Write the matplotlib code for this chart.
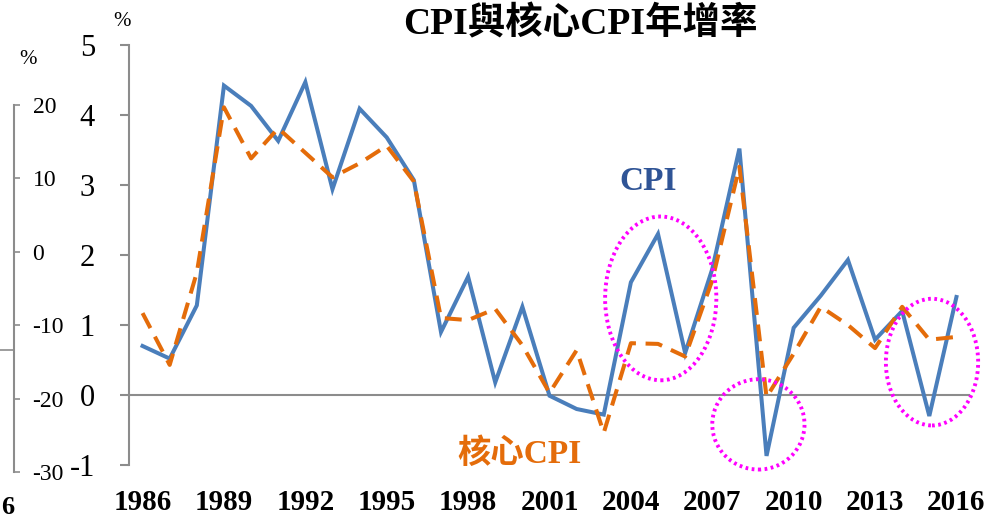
#!/usr/bin/env python3
"""CPI vs core CPI annual growth (Taiwan), 1986-2016."""

import matplotlib

matplotlib.use("Agg")
import matplotlib.pyplot as plt
from matplotlib.lines import Line2D
from matplotlib.patches import Ellipse

YEARS = list(range(1986, 2017))
CPI = [0.70, 0.52, 1.28, 4.42, 4.13, 3.63, 4.47, 2.94, 4.09, 3.68,
       3.07, 0.90, 1.69, 0.18, 1.26, -0.01, -0.20, -0.28, 1.61, 2.30,
       0.60, 1.80, 3.52, -0.87, 0.96, 1.42, 1.93, 0.79, 1.20, -0.30, 1.40]
CORE_CPI = [1.17, 0.43, 1.75, 4.11, 3.38, 3.81, 3.46, 3.11, 3.31, 3.56,
            3.05, 1.10, 1.07, 1.23, 0.71, 0.03, 0.64, -0.54, 0.74, 0.73,
            0.55, 1.64, 3.26, -0.03, 0.59, 1.26, 1.00, 0.67, 1.26, 0.79, 0.83]
YEAR_TICKS = list(range(1986, 2017, 3))
MAIN_YTICKS = [-1, 0, 1, 2, 3, 4, 5]
LEFT_YTICKS = [-30, -20, -10, 0, 10, 20]
# highlighted episodes: (center year, center value, width in years, height)
HIGHLIGHTS = [(2005.1, 1.38, 4.1, 2.34), (2008.7, -0.42, 3.4, 1.29),
              (2015.1, 0.47, 3.4, 1.81)]

W, H = 992, 519
SERIF = ["Liberation Serif", "Noto Sans CJK TC"]
GRAY = "#8c8c8c"


def fx(px):
    return px / W


def fy(py):
    return 1 - py / H


def main():
    plt.rcParams["font.family"] = SERIF
    plt.rcParams["axes.unicode_minus"] = False
    fig = plt.figure(figsize=(W / 100, H / 100), dpi=100)

    # leftover axis of a neighbouring chart, clipped at the left edge
    ax_l = fig.add_axes([fx(14), fy(472), fx(6), fy(105) - fy(472)])
    ax_l.set_ylim(-30, 20)
    ax_l.set_yticks(LEFT_YTICKS)
    ax_l.set_xticks([])
    for side in ["top", "right", "bottom"]:
        ax_l.spines[side].set_visible(False)
    ax_l.spines["left"].set_color(GRAY)
    ax_l.spines["left"].set_linewidth(1.5)
    ax_l.patch.set_alpha(0)
    ax_l.tick_params(axis="y", direction="in", length=4.5, width=1.2, color=GRAY,
                     left=True, right=False, labelleft=False, labelright=True,
                     labelsize=17, pad=9)
    fig.add_artist(Line2D([0, fx(14)], [fy(350), fy(350)], color=GRAY, lw=1.2))
    fig.text(fx(28), fy(60), "%", fontsize=15, ha="center", va="center")
    fig.text(fx(8), fy(507), "6", fontsize=19, fontweight="bold",
             ha="center", va="center")

    ax = fig.add_axes([fx(129), fy(465), fx(970) - fx(129), fy(45) - fy(465)])
    ax.plot(YEARS, CPI, color="#4A7EBB", lw=2.9, solid_joinstyle="miter", zorder=2)
    ax.plot(YEARS, CORE_CPI, color="#E46C0A", lw=2.9, dashes=(4.2, 2.4), zorder=3)
    ax.axhline(0, color=GRAY, lw=1.5, zorder=1)

    for cx, cy, w, h in HIGHLIGHTS:
        ax.add_patch(Ellipse((cx, cy), w, h, fill=False, edgecolor="#FF00FF",
                             lw=2.8, linestyle=(0, (0.7, 0.9)), zorder=4,
                             clip_on=False))

    ax.set_xlim(1985.5, 2016.5)
    ax.set_ylim(-1, 5)
    ax.set_yticks(MAIN_YTICKS)
    ax.set_xticks(YEAR_TICKS)
    ax.set_xticklabels([str(y) for y in YEAR_TICKS], fontsize=21, fontweight="bold")
    ax.tick_params(axis="x", length=0, pad=17)
    ax.tick_params(axis="y", direction="out", length=6.5, width=1.5, color=GRAY,
                   labelsize=22, pad=18)
    for side in ["top", "right", "bottom"]:
        ax.spines[side].set_visible(False)
    ax.spines["left"].set_color(GRAY)
    ax.spines["left"].set_linewidth(1.5)
    ax.patch.set_alpha(0)

    fig.text(fx(122), fy(22), "%", fontsize=15, ha="center", va="center")
    fig.text(fx(580), fy(24), "CPI與核心CPI年增率", fontsize=27, fontweight="bold",
             ha="center", va="center")
    fig.text(fx(648), fy(182), "CPI", fontsize=24, fontweight="bold",
             color="#2F5496", ha="center", va="center")
    fig.text(fx(520), fy(454), "核心CPI", fontsize=24, fontweight="bold",
             color="#E46C0A", ha="center", va="center")

    fig.savefig("out.png", dpi=100)
    plt.close(fig)


if __name__ == "__main__":
    main()
